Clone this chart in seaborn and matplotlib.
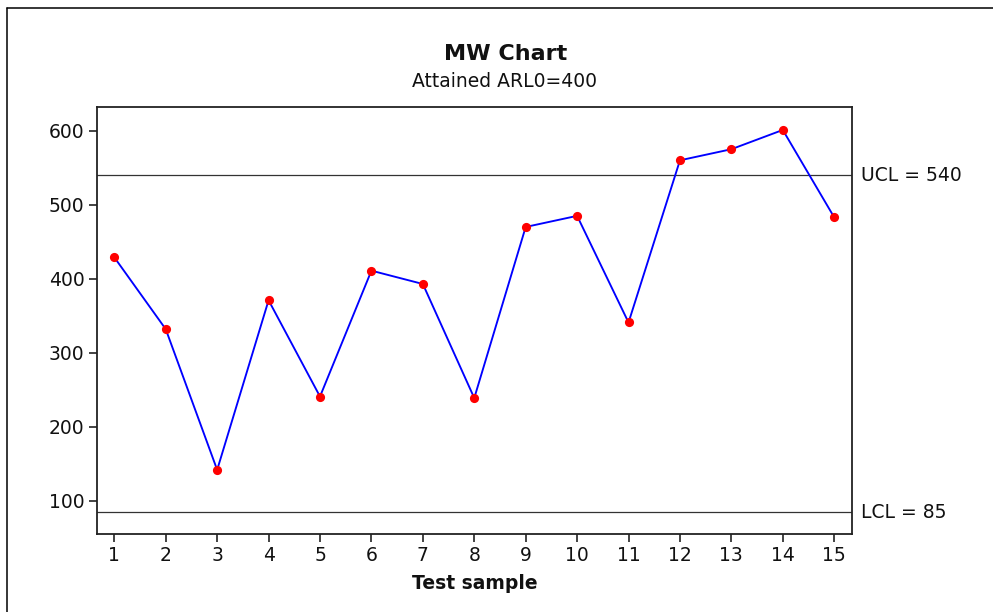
import matplotlib
matplotlib.use("Agg")
import matplotlib.pyplot as plt
from matplotlib.lines import Line2D
import seaborn as sns
import pandas as pd

# Monitoring statistic for each test sample
samples = list(range(1, 16))
mw_values = [429, 332, 142, 371, 241, 411, 393, 239, 470, 485, 341, 560, 575, 601, 483]

# Control limits
ucl = 540
lcl = 85

y_ticks = [100, 200, 300, 400, 500, 600]

sns.set_theme(style="white")
plt.rcParams["font.family"] = ["DejaVu Sans"]

W, H = 993, 612
fig = plt.figure(figsize=(W / 100, H / 100), dpi=100)
fig.patch.set_facecolor("white")

left, right, top, bottom = 97.3, 851.7, 106.7, 534.0
ax = fig.add_axes([left / W, 1 - bottom / H, (right - left) / W, (bottom - top) / H])

df = pd.DataFrame({"sample": samples, "value": mw_values})
sns.lineplot(data=df, x="sample", y="value", ax=ax, color="blue", linewidth=1.35,
             marker="o", markersize=6.6, markerfacecolor="red",
             markeredgecolor="red", markeredgewidth=0, zorder=3)

ax.axhline(ucl, color="#333333", linewidth=0.9, zorder=2)
ax.axhline(lcl, color="#333333", linewidth=0.9, zorder=2)

ax.set_xlim(0.669, 15.34)
ax.set_ylim(55.4, 632.4)
ax.set_xticks(samples)
ax.set_yticks(y_ticks)

for s in ax.spines.values():
    s.set_color("#222222")
    s.set_linewidth(1.3)

ax.tick_params(axis="both", which="major", direction="out", length=5.8, width=1.2,
               color="#222222", labelsize=13.5, labelcolor="#111111",
               left=True, bottom=True)
ax.tick_params(axis="y", pad=3.5)
ax.tick_params(axis="x", pad=3.0)

ax.set_xlabel("Test sample", fontsize=13.5, fontweight="bold", color="#111111", labelpad=6)
ax.set_ylabel("")

# Limit labels to the right of the plot area
trans = ax.get_yaxis_transform()
ax.text(1.012, ucl, "UCL = 540", transform=trans, va="center", ha="left",
        fontsize=13.5, color="#111111", clip_on=False)
ax.text(1.012, lcl, "LCL = 85", transform=trans, va="center", ha="left",
        fontsize=13.5, color="#111111", clip_on=False)

# Titles
fig.text(506 / W, 1 - 60 / H, "MW Chart", ha="center", va="baseline",
         fontsize=16, fontweight="bold", color="#111111")
fig.text(505 / W, 1 - 86.7 / H, "Attained ARL0=400", ha="center", va="baseline",
         fontsize=13.5, color="#111111")

# Outer frame (top and left edges)
fx = 7.3 / W
fy = 1 - 8.3 / H
fig.add_artist(Line2D([fx, 1.0], [fy, fy], transform=fig.transFigure,
                      color="black", linewidth=1.1))
fig.add_artist(Line2D([fx, fx], [0.0, fy], transform=fig.transFigure,
                      color="black", linewidth=1.1))

fig.savefig("out.png", dpi=100, facecolor="white")
